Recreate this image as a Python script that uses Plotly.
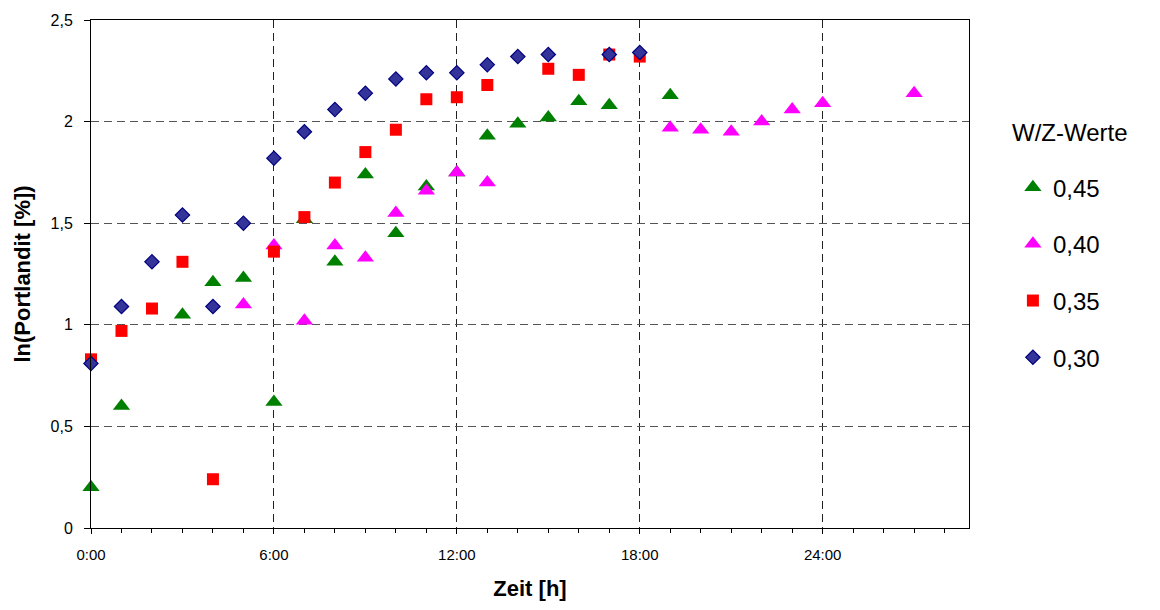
import plotly.graph_objects as go

# Hydration time in hours and ln of portlandite content per w/c ratio
hours_045 = [0, 1, 3, 4, 5, 6, 7, 8, 9, 10, 11, 12, 13, 14, 15, 16, 17, 19]
ln_045 = [0.20, 0.60, 1.05, 1.21, 1.23, 0.62, 1.52, 1.31, 1.74, 1.45, 1.68, 1.75,
          1.93, 1.99, 2.02, 2.10, 2.08, 2.13]

hours_040 = [5, 6, 7, 8, 9, 10, 11, 12, 13, 19, 20, 21, 22, 23, 24, 27]
ln_040 = [1.10, 1.39, 1.02, 1.39, 1.33, 1.55, 1.66, 1.75, 1.70, 1.97, 1.96, 1.95,
          2.00, 2.06, 2.09, 2.14]

hours_035 = [0, 1, 2, 3, 4, 6, 7, 8, 9, 10, 11, 12, 13, 15, 16, 17, 18]
ln_035 = [0.83, 0.97, 1.08, 1.31, 0.24, 1.36, 1.53, 1.70, 1.85, 1.96, 2.11, 2.12,
          2.18, 2.26, 2.23, 2.33, 2.32]

hours_030 = [0, 1, 2, 3, 4, 5, 6, 7, 8, 9, 10, 11, 12, 13, 14, 15, 17, 18]
ln_030 = [0.81, 1.09, 1.31, 1.54, 1.09, 1.50, 1.82, 1.95, 2.06, 2.14, 2.21, 2.24,
          2.24, 2.28, 2.32, 2.33, 2.33, 2.34]

series_names = ["0,45", "0,40", "0,35", "0,30"]
legend_heading = "W/Z-Werte"

x_tick_vals = [0, 6, 12, 18, 24]
x_tick_text = ["0:00", "6:00", "12:00", "18:00", "24:00"]
y_tick_vals = [0, 0.5, 1, 1.5, 2, 2.5]
y_tick_text = ["0", "0,5", "1", "1,5", "2", "2,5"]

FONT = "Liberation Sans, Arial, sans-serif"

fig = go.Figure()

styles = [
    dict(symbol="triangle-up", size=15, color="#008000", line=dict(width=0)),
    dict(symbol="triangle-up", size=15, color="#FF00FF", line=dict(width=0)),
    dict(symbol="square", size=12, color="#FF0000", line=dict(width=0)),
    dict(symbol="diamond", size=11, color="#333399", line=dict(width=1.2, color="#000080")),
]
data = [(hours_045, ln_045), (hours_040, ln_040), (hours_035, ln_035), (hours_030, ln_030)]

for name, (xs, ys), mk in zip(series_names, data, styles):
    fig.add_trace(go.Scatter(
        x=xs, y=ys, mode="markers", name=name, legendgroup=name,
        marker=mk, cliponaxis=False,
    ))

fig.update_layout(
    width=1160, height=610,
    margin=dict(l=91, r=191, t=17, b=82),
    paper_bgcolor="white", plot_bgcolor="white",
    font=dict(family=FONT, color="black", size=16),
    legend=dict(
        font=dict(size=24),
        x=1.05, xanchor="left", y=0.7145, yanchor="top",
        tracegroupgap=22.5,
        itemwidth=30,
        bgcolor="rgba(0,0,0,0)",
    ),
    showlegend=True,
    annotations=[dict(
        text=legend_heading, xref="paper", yref="paper",
        x=1.0465, y=0.779, xanchor="left", yanchor="middle",
        showarrow=False, font=dict(size=24),
    )],
)

fig.update_xaxes(
    range=[0, 28.8],
    tickmode="array", tickvals=x_tick_vals, ticktext=x_tick_text,
    tickfont=dict(size=15),
    ticks="outside", ticklen=5, tickcolor="black",
    minor=dict(dtick=1, tick0=0, ticks="outside", ticklen=4, tickcolor="black", showgrid=False),
    ticklabelstandoff=8,
    showline=True, linecolor="black", linewidth=1, mirror=True,
    showgrid=True, gridcolor="#222222", griddash="8px,5px", gridwidth=1,
    zeroline=False,
    title=dict(text="<b>Zeit [h]</b>", font=dict(size=22), standoff=18),
)

fig.update_yaxes(
    range=[0, 2.5],
    tickmode="array", tickvals=y_tick_vals, ticktext=y_tick_text,
    tickfont=dict(size=16),
    ticks="outside", ticklen=6, tickcolor="black",
    ticklabelstandoff=8,
    showline=True, linecolor="black", linewidth=1, mirror=True,
    showgrid=True, gridcolor="#555555", griddash="8px,5px", gridwidth=1,
    zeroline=False,
    title=dict(text="<b>ln(Portlandit [%])</b>", font=dict(size=22), standoff=13),
)

fig.write_html("out.html")
